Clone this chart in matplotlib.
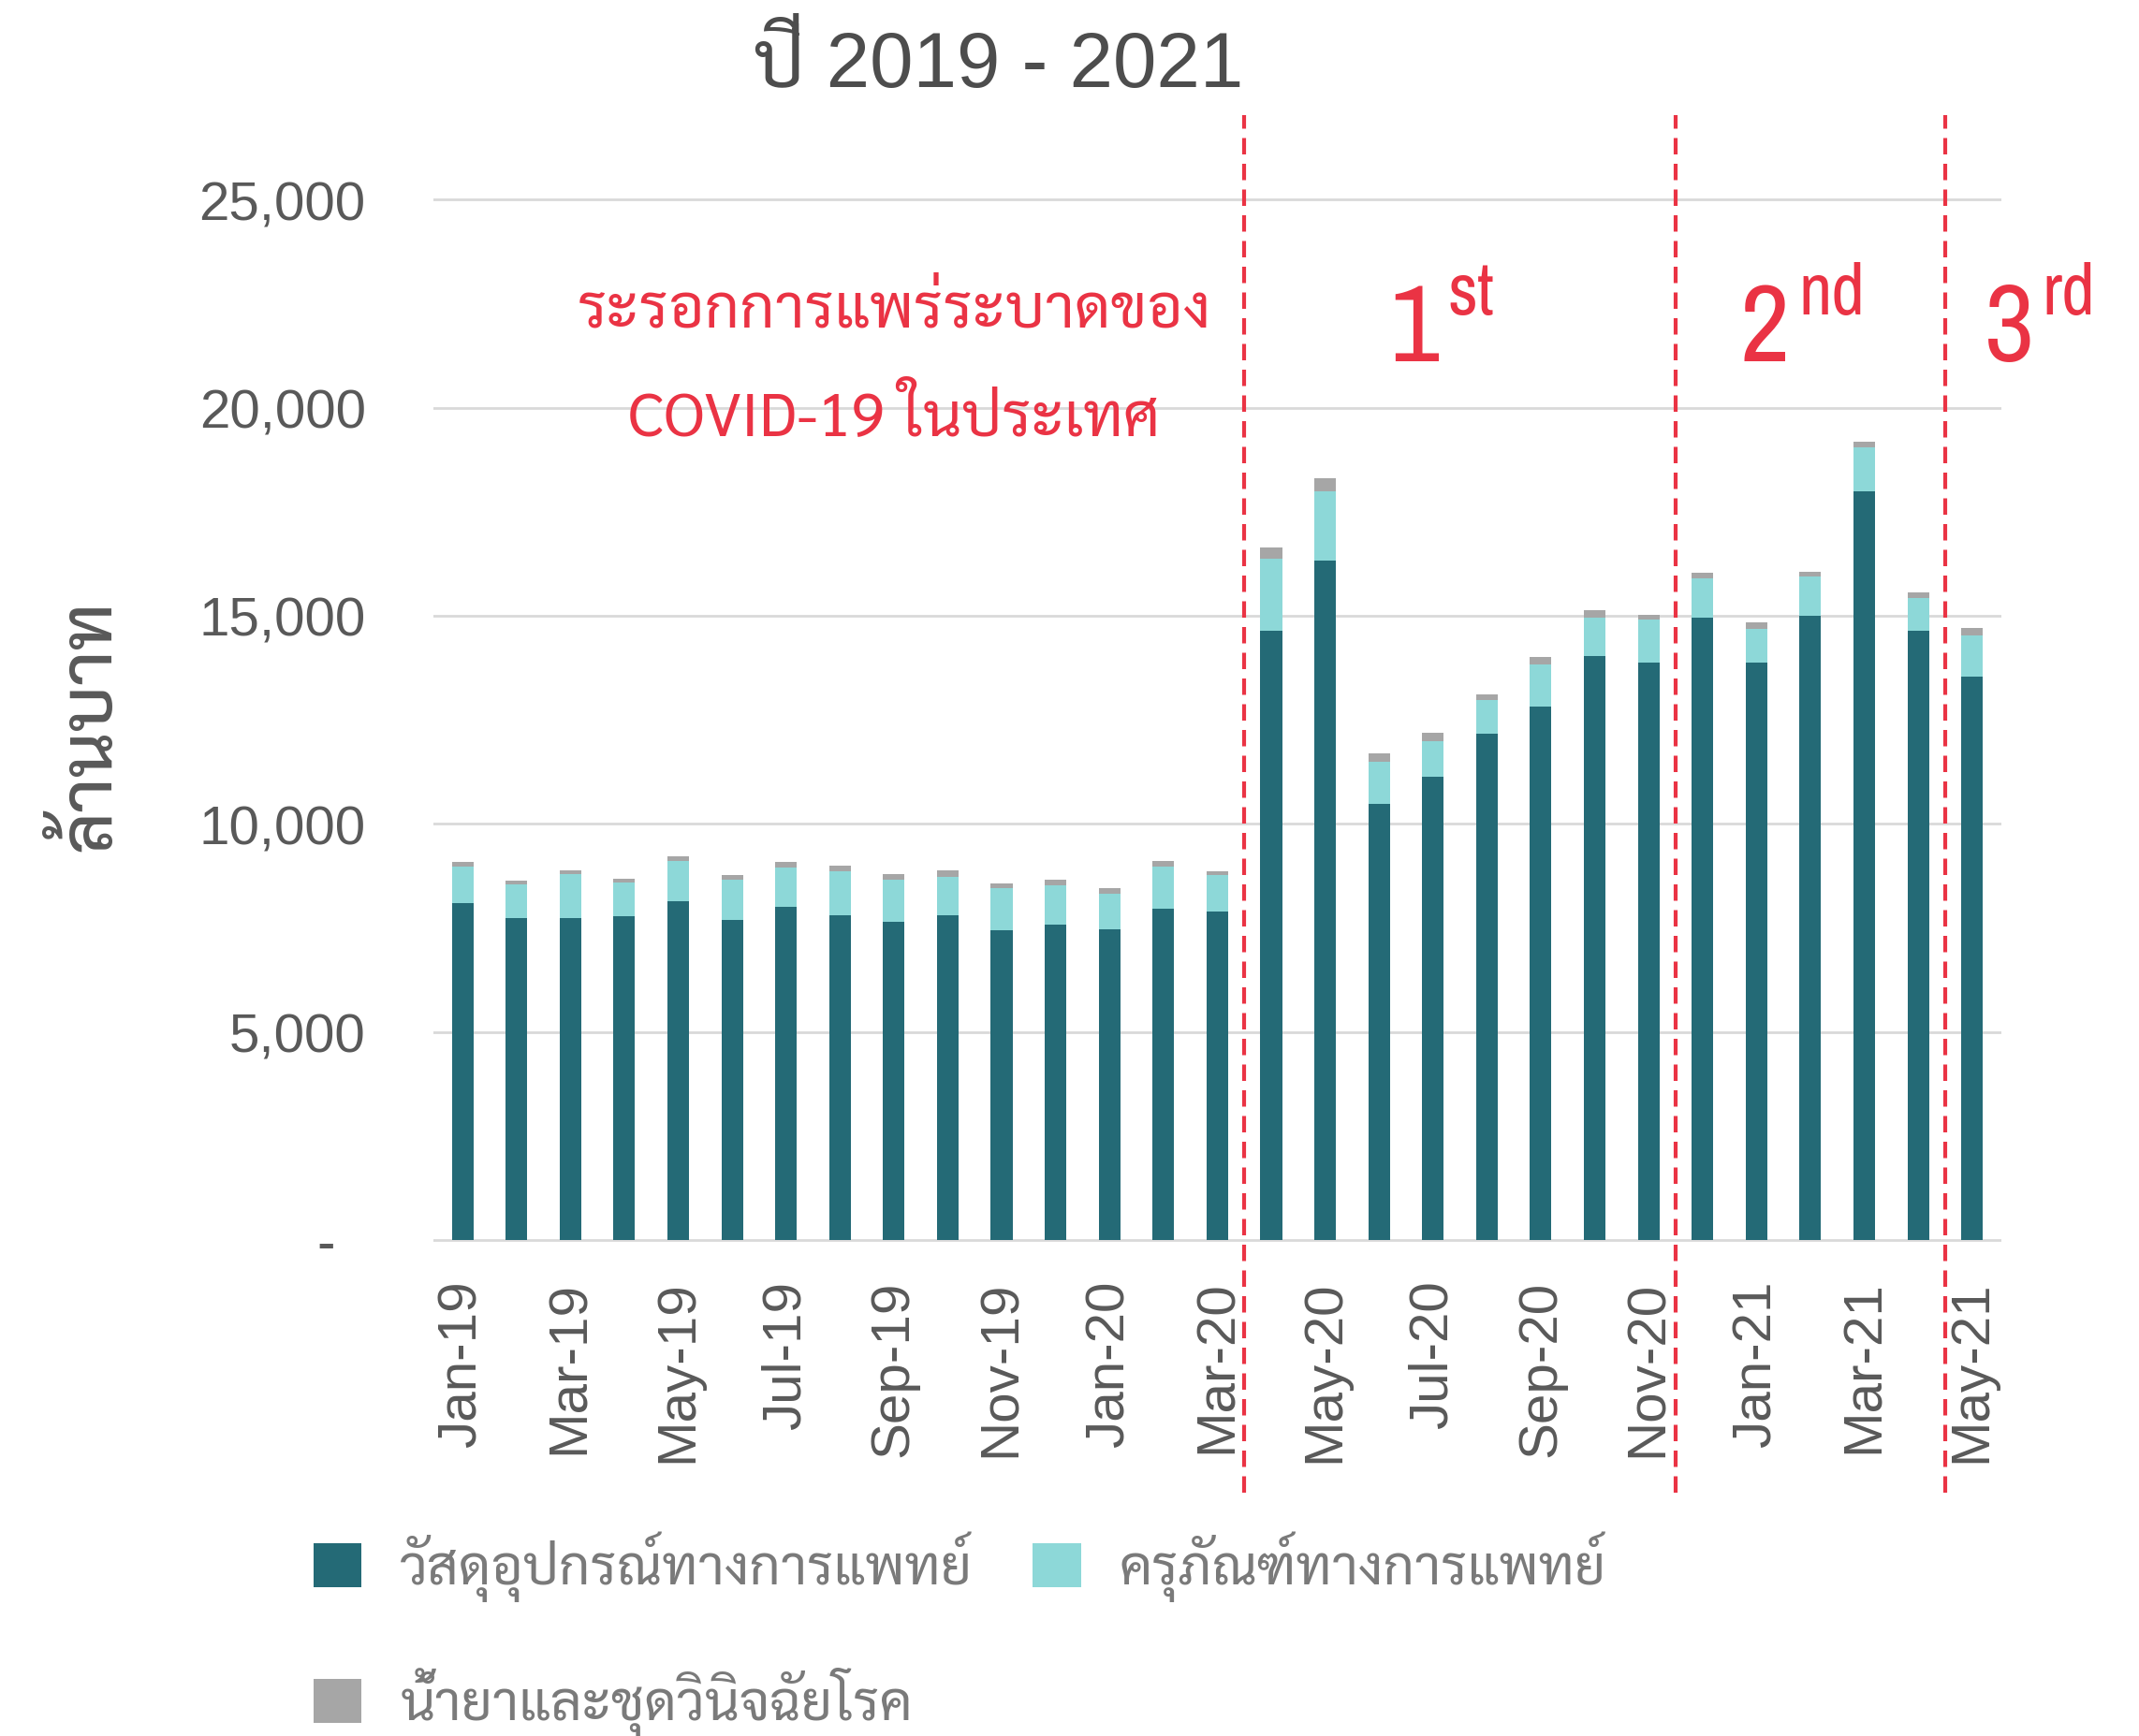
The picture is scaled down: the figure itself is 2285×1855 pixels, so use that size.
import matplotlib
matplotlib.use("Agg")
import matplotlib.pyplot as plt
import numpy as np

# monthly values, million baht
months = ["Jan-19", "Feb-19", "Mar-19", "Apr-19", "May-19", "Jun-19", "Jul-19", "Aug-19",
          "Sep-19", "Oct-19", "Nov-19", "Dec-19", "Jan-20", "Feb-20", "Mar-20", "Apr-20",
          "May-20", "Jun-20", "Jul-20", "Aug-20", "Sep-20", "Oct-20", "Nov-20", "Dec-20",
          "Jan-21", "Feb-21", "Mar-21", "Apr-21", "May-21"]
supplies = [8090, 7745, 7745, 7770, 8150, 7695, 8015, 7805, 7655, 7805, 7445, 7580, 7470, 7960, 7900,
            14650, 16330, 10480, 11130, 12160, 12810, 14030, 13880, 14960, 13870, 15000, 18000, 14650, 13540]
equipment = [885, 795, 1055, 830, 965, 960, 935, 1065, 1010, 920, 1020, 945, 850, 1015, 865,
             1730, 1665, 1010, 865, 815, 1020, 930, 1020, 940, 810, 945, 1045, 765, 980]
diagnostics = [105, 90, 90, 90, 95, 125, 130, 120, 120, 150, 100, 130, 130, 130, 105,
               270, 300, 195, 195, 130, 180, 165, 130, 140, 165, 115, 130, 140, 195]
series_names = ["วัสดุอุปกรณ์ทางการแพทย์", "ครุภัณฑ์ทางการแพทย์", "น้ำยาและชุดวินิจฉัยโรค"]
yticks = [0, 5000, 10000, 15000, 20000, 25000]
wave_breaks = [14.5, 22.5, 27.5]
wave_nums = ["1", "2", "3"]
wave_suffix = ["st", "nd", "rd"]

DARK = "#246a76"
TEAL = "#8dd8d8"
GREY = "#a6a6a6"
RED = "#ea3344"
TXT = "#595959"
LATIN = ["Liberation Sans", "Sarabun", "DejaVu Sans"]
THAI = ["Sarabun", "Liberation Sans", "DejaVu Sans"]
NARROW = ["Archivo Narrow", "Liberation Sans"]

fig = plt.figure(figsize=(22.85, 18.56), dpi=100)
ax = fig.add_axes([0.2026, 0.2836, 0.7330, 0.6046])

x = np.arange(len(months))
s1 = np.array(supplies)
s2 = np.array(equipment)
s3 = np.array(diagnostics)
w = 0.4
b1 = ax.bar(x, s1, w, color=DARK, zorder=3)
b2 = ax.bar(x, s2, w, bottom=s1, color=TEAL, zorder=3)
b3 = ax.bar(x, s3, w, bottom=s1 + s2, color=GREY, zorder=3)

ax.set_xlim(-0.54, len(months) - 1 + 0.54)
ax.set_ylim(-80, 25150)
ax.set_yticks(yticks)
ax.set_yticklabels(["-  "] + [f"{v:,}" for v in yticks[1:]], fontsize=42, color=TXT, family=LATIN)
ax.set_xticks(x[::2])
ax.set_xticklabels(months[::2], rotation=90, fontsize=42, color=TXT, family=LATIN)
ax.tick_params(axis="y", length=0, pad=52)
ax.tick_params(axis="x", length=0, pad=28)
for sp in ax.spines.values():
    sp.set_visible(False)
ax.grid(axis="y", color="#d9d9d9", linewidth=2.0, zorder=0)

# wave separators, running past the plot area
for xb in wave_breaks:
    ax.plot([xb, xb], [-0.2373, 1.0743], transform=ax.get_xaxis_transform(), clip_on=False,
            color=RED, linewidth=3.0, linestyle=(0, (4.2, 2.4)), zorder=4)

fig.text(0.467, 0.950, "ปี 2019 - 2021", fontsize=60, color="#4d4d4d", family=LATIN,
         ha="center", va="baseline")
fig.text(0.043, 0.582, "ล้านบาท", fontsize=55, color=TXT, family=THAI, rotation=90,
         ha="center", va="center", fontweight="medium")

fig.text(0.418, 0.8205, "ระรอกการแพร่ระบาดของ", fontsize=47, color=RED, family=THAI,
         ha="center", va="center")
fig.text(0.418, 0.758, "COVID-19 ในประเทศ", fontsize=47, color=RED, family=THAI,
         ha="center", va="center")

wave_x = [0.6727, 0.8368, 0.9508]
for xs, n, suf in zip(wave_x, wave_nums, wave_suffix):
    fig.text(xs, 0.792, n, fontsize=84, color=RED, family=NARROW, ha="right", va="baseline")
    fig.text(xs + 0.004, 0.819, suf, fontsize=56, color=RED, family=NARROW, ha="left", va="baseline")

handles = [b1, b3, b2]
labels = [series_names[0], series_names[2], series_names[1]]
leg = fig.legend(handles, labels, ncol=2, loc="upper left", bbox_to_anchor=(0.1466, 0.118),
                 frameon=False, handlelength=0.88, handleheight=0.88,
                 handletextpad=0.7, columnspacing=1.1, labelspacing=1.2,
                 borderpad=0, borderaxespad=0, prop={"family": THAI, "size": 42})
for t in leg.get_texts():
    t.set_color("#7a7a7a")

fig.savefig("out.png", dpi=100)
